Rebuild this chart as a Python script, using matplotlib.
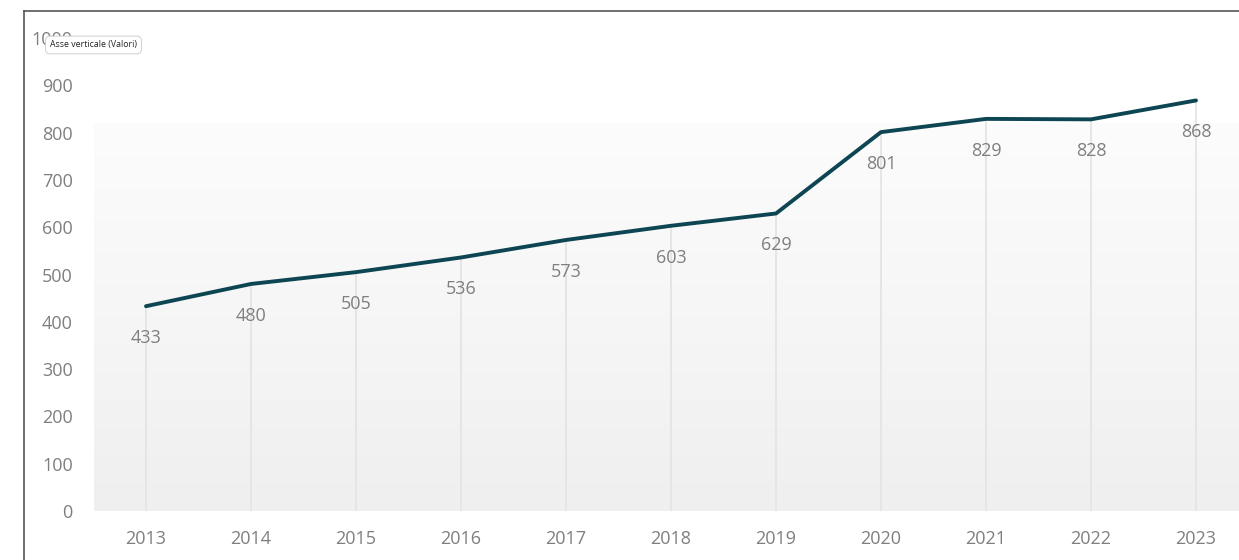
import matplotlib.pyplot as plt
import numpy as np
from matplotlib.colors import LinearSegmentedColormap

years = [2013, 2014, 2015, 2016, 2017, 2018, 2019, 2020, 2021, 2022, 2023]
values = [433, 480, 505, 536, 573, 603, 629, 801, 829, 828, 868]
yticks = [0, 100, 200, 300, 400, 500, 600, 700, 800, 900, 1000]

plt.rcParams["font.family"] = ["Open Sans", "DejaVu Sans"]

W, H = 1239, 560
fig = plt.figure(figsize=(W / 100, H / 100), dpi=100)
fig.patch.set_facecolor("white")

# outer frame of the chart panel
fig.add_artist(plt.Line2D([24 / W, 24 / W], [0, 1 - 11 / H], color="#555555", lw=1.2))
fig.add_artist(plt.Line2D([24 / W, 1], [1 - 11 / H, 1 - 11 / H], color="#555555", lw=1.2))

ax = fig.add_axes([93.5 / W, (H - 511) / H, 1 - 93.5 / W, (511 - 38) / H])
ax.set_xlim(2012.5, 2012.5 + (W - 93.5) / 105)
ax.set_ylim(0, 1000)

# soft grey gradient behind the plot
cmap = LinearSegmentedColormap.from_list("bg", ["#efefef", "#f6f6f6", "#fcfcfc"])
grad = np.linspace(0, 1, 256).reshape(-1, 1)
ax.imshow(grad, cmap=cmap, aspect="auto", origin="lower",
          extent=(2012.5, 2024, 0, 820), zorder=0)

# drop lines from each point to the axis
ax.vlines(years, 0, values, color="#e4e4e4", lw=1.3, zorder=1)

ax.plot(years, values, color="#0d4552", lw=2.8, solid_capstyle="round", zorder=3)

for x, v in zip(years, values):
    ax.annotate(str(v), (x, v), xytext=(0, -32), textcoords="offset pixels",
                ha="center", va="center", fontsize=13, color="#7f7f7f", zorder=4)

ax.set_yticks(yticks)
ax.set_xticks(years)
ax.set_xticklabels([str(y) for y in years])
ax.tick_params(length=0, labelsize=13, colors="#7f7f7f")
ax.tick_params(axis="y", pad=15)
ax.tick_params(axis="x", pad=14)
for s in ax.spines.values():
    s.set_visible(False)

# hover tooltip over the vertical axis
fig.text(50 / W, 1 - 45 / H, "Asse verticale (Valori)", fontsize=6.3, color="#222222",
         va="center", ha="left", zorder=10,
         bbox=dict(boxstyle="round,pad=0.5", fc="white", ec="#c8c8c8", lw=0.6))

fig.savefig("out.png", dpi=100)
